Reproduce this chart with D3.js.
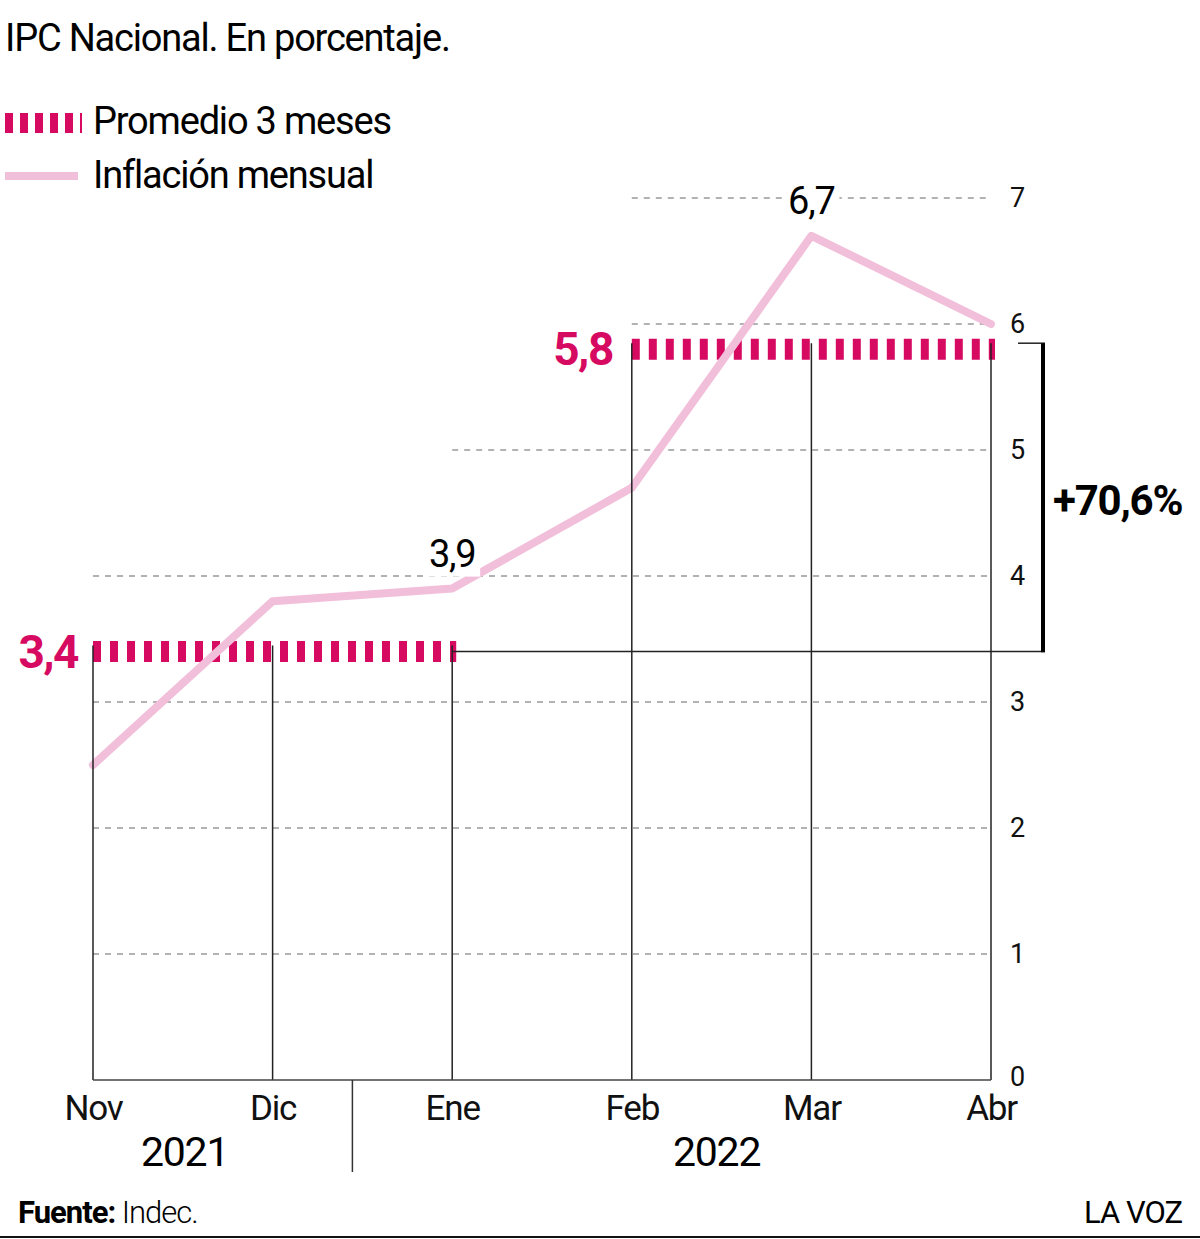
<!DOCTYPE html>
<html>
<head>
<meta charset="utf-8">
<script src="https://cdn.jsdelivr.net/npm/d3@7"></script>
<style>
	body { margin: 0; background: #fff; }
	svg text { font-family: Roboto, "Liberation Sans", sans-serif; }
</style>
</head>
<body>
<svg id="svg-main" width="1200" height="1239"></svg>
<script>
// datos
var meses = ["Nov", "Dic", "Ene", "Feb", "Mar", "Abr"];
var inflacion = [2.5, 3.8, 3.9, 4.7, 6.7, 6.0];
var promedios = [3.4, 5.8];
var promedioLabels = ["3,4", "5,8"];
var anios = ["2021", "2022"];
var yTicks = [0, 1, 2, 3, 4, 5, 6, 7];
var gridDesde = ["Nov", "Nov", "Nov", "Nov", "Ene", "Feb", "Feb"]; // inicio de cada linea 1..7
var destacados = [{ mes: "Ene", texto: "3,9" }, { mes: "Mar", texto: "6,7" }];
var variacion = "+70,6%";

var magenta = "#d70a62",
	rosa = "#f2bfdb";

var svg = d3.select("#svg-main");

var x = d3.scalePoint().domain(meses).range([93, 991]);
var y = d3.scaleLinear().domain([0, 7]).range([1080, 198]);

// titulo y leyenda
svg.append("text").attr("x", 5).attr("y", 51).attr("font-size", 38).attr("letter-spacing", -1.2).text("IPC Nacional. En porcentaje.");

svg.append("line")
	.attr("x1", 5).attr("x2", 82).attr("y1", 123).attr("y2", 123)
	.attr("stroke", magenta).attr("stroke-width", 20).attr("stroke-dasharray", "8,7");
svg.append("text").attr("x", 93).attr("y", 134).attr("font-size", 38).attr("letter-spacing", -1.2).text("Promedio 3 meses");

svg.append("line")
	.attr("x1", 5).attr("x2", 78).attr("y1", 176).attr("y2", 176)
	.attr("stroke", rosa).attr("stroke-width", 8);
svg.append("text").attr("x", 93).attr("y", 188).attr("font-size", 38).attr("letter-spacing", -1.2).text("Inflación mensual");

// grilla punteada
svg.append("g").selectAll("line")
	.data(yTicks.slice(1))
	.enter().append("line")
	.attr("x1", function(d, i) { return x(gridDesde[i]); })
	.attr("x2", x("Abr") - 3)
	.attr("y1", function(d) { return y(d); })
	.attr("y2", function(d) { return y(d); })
	.attr("stroke", "#999").attr("stroke-width", 1.5).attr("stroke-dasharray", "6,6");

// barras de promedio
var grupos = [meses.slice(0, 3), meses.slice(3)];
svg.append("g").selectAll("line")
	.data(promedios)
	.enter().append("line")
	.attr("x1", function(d, i) { return x(grupos[i][0]); })
	.attr("x2", function(d, i) { return x(grupos[i][2]) + 4; })
	.attr("y1", function(d) { return y(d); })
	.attr("y2", function(d) { return y(d); })
	.attr("stroke", magenta).attr("stroke-width", 21).attr("stroke-dasharray", "8,9");

// linea de inflacion
var line = d3.line()
	.x(function(d, i) { return x(meses[i]); })
	.y(function(d) { return y(d); });
svg.append("path")
	.datum(inflacion)
	.attr("d", line)
	.attr("fill", "none").attr("stroke", rosa).attr("stroke-width", 8)
	.attr("stroke-linecap", "round").attr("stroke-linejoin", "round");

// verticales por mes
svg.append("g").selectAll("line")
	.data(meses)
	.enter().append("line")
	.attr("x1", function(d) { return x(d); })
	.attr("x2", function(d) { return x(d); })
	.attr("y1", function(d, i) { return y(promedios[i < 3 ? 0 : 1]) - 6; })
	.attr("y2", y(0))
	.attr("stroke", "#222").attr("stroke-width", 1.5);

svg.append("line")
	.attr("x1", x("Nov")).attr("x2", x("Abr"))
	.attr("y1", y(0)).attr("y2", y(0))
	.attr("stroke", "#444").attr("stroke-width", 1.5);

// linea base del primer promedio y corchete
svg.append("line")
	.attr("x1", x("Ene")).attr("x2", 1045)
	.attr("y1", y(promedios[0])).attr("y2", y(promedios[0]))
	.attr("stroke", "#222").attr("stroke-width", 1.5);
svg.append("line")
	.attr("x1", 1018).attr("x2", 1045)
	.attr("y1", y(promedios[1]) - 6).attr("y2", y(promedios[1]) - 6)
	.attr("stroke", "#222").attr("stroke-width", 1.5);
svg.append("line")
	.attr("x1", 1043).attr("x2", 1043)
	.attr("y1", y(promedios[1]) - 6).attr("y2", y(promedios[0]) + 0.75)
	.attr("stroke", "#000").attr("stroke-width", 4);
svg.append("text")
	.attr("x", 1053).attr("y", (y(promedios[0]) + y(promedios[1])) / 2 + 15)
	.attr("font-size", 42).attr("font-weight", "bold").attr("letter-spacing", -1.2).text(variacion);

// etiquetas de promedios
svg.append("g").selectAll("text")
	.data(promedios)
	.enter().append("text")
	.attr("x", function(d, i) { return x(grupos[i][0]) - (i == 0 ? 15 : 19); })
	.attr("y", function(d) { return y(d) + 16; })
	.attr("text-anchor", "end")
	.attr("font-size", 46).attr("font-weight", "bold").attr("fill", magenta).attr("letter-spacing", -1.5)
	.text(function(d, i) { return promedioLabels[i]; });

// valores destacados
var dest = svg.append("g").selectAll("g")
	.data(destacados)
	.enter().append("g");
dest.append("rect")
	.attr("x", function(d) { return x(d.mes) - 28; })
	.attr("y", function(d) { return y(inflacion[meses.indexOf(d.mes)]) - 52; })
	.attr("width", 56).attr("height", 40)
	.attr("fill", "#fff");
dest.append("text")
	.attr("x", function(d) { return x(d.mes); })
	.attr("y", function(d) { return y(inflacion[meses.indexOf(d.mes)]) - 22; })
	.attr("text-anchor", "middle").attr("font-size", 38).attr("letter-spacing", -1.2)
	.text(function(d) { return d.texto; });

// eje y
var yAxis = svg.append("g")
	.attr("transform", "translate(" + x("Abr") + ",0)")
	.call(d3.axisRight(y).tickValues(yTicks).tickFormat(d3.format("d")).tickSize(0).tickPadding(19));
yAxis.select(".domain").remove();
yAxis.selectAll("text").attr("font-size", 27).attr("fill", "#111")
	.style("font-family", "Roboto, sans-serif");
yAxis.selectAll(".tick").filter(function(d) { return d == 0; }).select("text").attr("dy", "0.2em");

// eje x
var xAxis = svg.append("g")
	.attr("transform", "translate(0," + y(0) + ")")
	.call(d3.axisBottom(x).tickSize(0).tickPadding(15));
xAxis.select(".domain").remove();
xAxis.selectAll("text").attr("font-size", 35).attr("fill", "#111").attr("letter-spacing", -1.2)
	.attr("dy", "0.71em")
	.style("font-family", "Roboto, sans-serif");

// anios
var sep = (x("Dic") + x("Ene")) / 2 - 10;
svg.append("line")
	.attr("x1", sep).attr("x2", sep).attr("y1", y(0)).attr("y2", 1172)
	.attr("stroke", "#333").attr("stroke-width", 1.5);
svg.append("g").selectAll("text")
	.data(anios)
	.enter().append("text")
	.attr("x", function(d, i) { return i == 0 ? (x("Nov") + x("Ene")) / 2 - 88 : (x("Feb") + x("Mar")) / 2 - 5; })
	.attr("y", 1166)
	.attr("text-anchor", "middle").attr("font-size", 41).attr("letter-spacing", -1.2)
	.text(function(d) { return d; });

// pie
var fuente = svg.append("text").attr("x", 18).attr("y", 1223).attr("font-size", 31).attr("letter-spacing", -1);
fuente.append("tspan").attr("font-weight", "bold").text("Fuente:");
fuente.append("tspan").attr("font-weight", "300").text(" Indec.");
svg.append("text").attr("x", 1182).attr("y", 1223).attr("text-anchor", "end").attr("font-size", 31).attr("letter-spacing", -1).text("LA VOZ");
svg.append("line")
	.attr("x1", 0).attr("x2", 1200).attr("y1", 1237).attr("y2", 1237)
	.attr("stroke", "#111").attr("stroke-width", 2);
</script>
</body>
</html>
